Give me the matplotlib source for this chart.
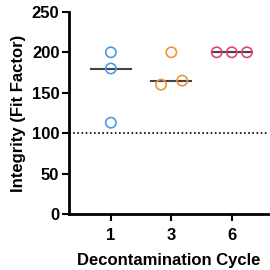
import matplotlib.pyplot as plt
import numpy as np

cycles = ["1", "3", "6"]
fit_1 = [200, 180, 113]
fit_3 = [200, 160, 165]
fit_6 = [200, 200, 200]
colors = ["#4a9be8", "#f0943a", "#e8407f"]
# horizontal scatter of the points within each group
jitter = [[0, 0, 0], [0, -0.17, 0.18], [-0.25, 0, 0.25]]

plt.rcParams["font.family"] = ["Liberation Sans", "DejaVu Sans"]
plt.rcParams["font.weight"] = "bold"

fig = plt.figure(figsize=(2.7, 2.7), dpi=100)
ax = fig.add_axes([0.256, 0.207, 0.737, 0.749])

groups = [fit_1, fit_3, fit_6]
for i, vals in enumerate(groups):
    xs = i + np.array(jitter[i])
    ax.scatter(xs, vals, s=55, facecolors="none", edgecolors=colors[i], linewidths=1.2, zorder=3)
    med = np.median(vals)
    ax.plot([i - 0.33, i + 0.33], [med, med], color="#444444", lw=1.5, zorder=2)

ax.axhline(100, color="black", ls=(0, (1, 1.5)), lw=1.2, zorder=1)

ax.set_xlim(-0.69, 2.6)
ax.set_ylim(0, 250)
ax.set_yticks([0, 50, 100, 150, 200, 250])
ax.set_xticks(range(len(cycles)))
ax.set_xticklabels(cycles)
ax.spines["top"].set_visible(False)
ax.spines["right"].set_visible(False)
ax.spines["left"].set_linewidth(2)
ax.spines["bottom"].set_linewidth(2)
ax.tick_params(width=1.5, length=5, labelsize=12, pad=2)
ax.tick_params(axis="x", pad=5)
for lab in ax.get_xticklabels() + ax.get_yticklabels():
    lab.set_fontweight("bold")
ax.set_xlabel("Decontamination Cycle", fontsize=12, fontweight="bold", labelpad=7)
ax.set_ylabel("Integrity (Fit Factor)", fontsize=12, fontweight="bold", labelpad=4)

fig.savefig("out.png", dpi=100)
